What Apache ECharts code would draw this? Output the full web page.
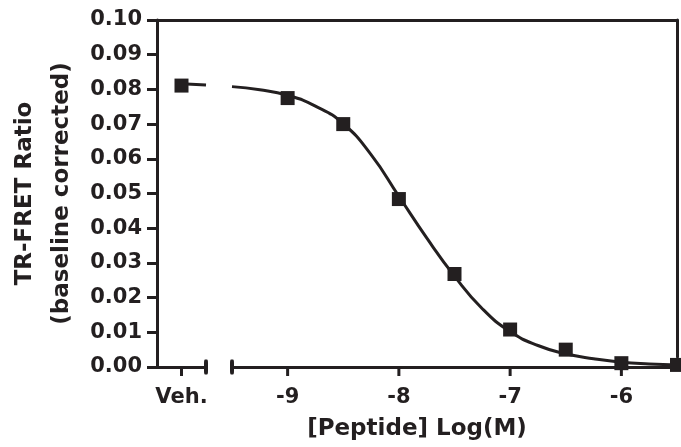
<!DOCTYPE html>
<html>
<head>
<meta charset="utf-8">
<script src="https://cdn.jsdelivr.net/npm/echarts@6/dist/echarts.min.js"></script>
<style>html,body{margin:0;padding:0;background:#fff;}#c{width:681px;height:447px;}</style>
</head>
<body>
<div id="c"></div>
<script>
// Data
const vehLabel = 'Veh.';
const vehValue = 0.0811;
const vehCurveX = [0, 1];
const vehCurveY = [0.0816, 0.0813];
const doseX = [-9, -8.5, -8, -7.5, -7, -6.5, -6, -5.5];
const doseY = [0.0775, 0.0700, 0.0484, 0.0268, 0.0108, 0.0050, 0.0011, 0.0006];
const curveX = [-9.5, -9.25, -9, -8.75, -8.5, -8.25, -8, -7.75, -7.5, -7.25, -7, -6.75, -6.5, -6.25, -6, -5.75, -5.5];
const curveY = [0.0808, 0.0799, 0.0783, 0.0752, 0.0701, 0.0612, 0.0492, 0.0372, 0.0262, 0.0168, 0.0102, 0.0062, 0.0038, 0.0024, 0.0014, 0.0009, 0.0006];
const xTicks = [-9, -8, -7, -6];
const vehTicks = [0];
const yTitle = 'TR-FRET Ratio\n(baseline corrected)';
const xTitle = '[Peptide] Log(M)';

const ink = '#231f20';
const font = 'DejaVu Sans';
const lineW = 3;
const G = {top: 20, bottom: 80};

const chart = echarts.init(document.getElementById('c'), null, {renderer: 'canvas'});
const tickSeries = (xi, yi, vals) => ({
  type: 'scatter', xAxisIndex: xi, yAxisIndex: yi, data: vals.map(v => [v, 0]),
  symbol: 'rect', symbolSize: [3, 9], symbolOffset: [0, 4.5],
  itemStyle: {color: ink, opacity: 1}, clip: false, z: 6, silent: true
});
chart.setOption({
  animation: false,
  backgroundColor: '#fff',
  grid: [
    {left: 157, right: 4, top: G.top, bottom: G.bottom},
    {left: 157, width: 49, top: G.top, bottom: G.bottom},
    {left: 232, right: 4, top: G.top, bottom: G.bottom}
  ],
  xAxis: [
    {gridIndex: 0, type: 'value', position: 'top', min: 0, max: 1,
     axisLine: {show: true, onZero: false, lineStyle: {color: ink, width: lineW}}, axisTick: {show: false},
     axisLabel: {show: false}, splitLine: {show: false}},
    {gridIndex: 0, type: 'value', position: 'bottom', min: 0, max: 1,
     axisLine: {show: false, onZero: false}, axisTick: {show: false}, axisLabel: {show: false}, splitLine: {show: false},
     name: xTitle, nameLocation: 'middle', nameGap: 59,
     nameTextStyle: {fontFamily: font, fontWeight: 'bold', fontSize: 23, color: ink, lineHeight: 26}},
    {gridIndex: 1, type: 'value', min: -1, max: 1,
     axisLine: {show: true, onZero: false, lineStyle: {color: ink, width: lineW}},
     axisTick: {show: false},
     axisLabel: {show: true, customValues: vehTicks, formatter: () => vehLabel, margin: 20,
       fontFamily: font, fontWeight: 'bold', fontSize: 21, color: ink},
     splitLine: {show: false}},
    {gridIndex: 2, type: 'value', min: -9.5, max: -5.5,
     axisLine: {show: true, onZero: false, lineStyle: {color: ink, width: lineW}},
     axisTick: {show: false},
     axisLabel: {show: true, customValues: xTicks, margin: 20,
       fontFamily: font, fontWeight: 'bold', fontSize: 21, color: ink},
     splitLine: {show: false}}
  ],
  yAxis: [
    {gridIndex: 0, type: 'value', position: 'right', min: 0, max: 1,
     axisLine: {show: true, onZero: false, lineStyle: {color: ink, width: lineW}}, axisTick: {show: false},
     axisLabel: {show: false}, splitLine: {show: false}},
    {gridIndex: 1, type: 'value', position: 'left', min: 0, max: 0.1, interval: 0.01,
     axisLine: {show: true, onZero: false, lineStyle: {color: ink, width: lineW}},
     axisTick: {show: true, length: 10, lineStyle: {color: ink, width: lineW}},
     axisLabel: {show: true, margin: 15, formatter: v => v.toFixed(2),
       fontFamily: font, fontWeight: 'bold', fontSize: 21, color: ink},
     splitLine: {show: false},
     name: yTitle, nameLocation: 'middle', nameGap: 76, nameRotate: 90,
     nameTextStyle: {fontFamily: font, fontWeight: 'bold', fontSize: 23, color: ink, lineHeight: 37, align: 'center'}},
    {gridIndex: 2, type: 'value', min: 0, max: 0.1, show: false}
  ],
  series: [
    {type: 'line', xAxisIndex: 2, yAxisIndex: 1, data: vehCurveX.map((x, i) => [x, vehCurveY[i]]),
     showSymbol: false, symbol: 'none', lineStyle: {color: ink, width: 3}, clip: false, z: 2},
    {type: 'line', xAxisIndex: 3, yAxisIndex: 2, data: curveX.map((x, i) => [x, curveY[i]]),
     smooth: true, showSymbol: false, symbol: 'none', lineStyle: {color: ink, width: 3}, clip: false, z: 2},
    {type: 'scatter', xAxisIndex: 2, yAxisIndex: 1, data: [[0, vehValue]],
     symbol: 'rect', symbolSize: 14, itemStyle: {color: ink, opacity: 1}, clip: false, z: 5},
    {type: 'scatter', xAxisIndex: 3, yAxisIndex: 2, data: doseX.map((x, i) => [x, doseY[i]]),
     symbol: 'rect', symbolSize: 14, itemStyle: {color: ink, opacity: 1}, clip: false, z: 5},
    tickSeries(2, 1, vehTicks),
    tickSeries(3, 2, xTicks),
    // axis break caps
    {type: 'scatter', xAxisIndex: 2, yAxisIndex: 1, data: [[1, 0]],
     symbol: 'roundRect', symbolSize: [4, 15], itemStyle: {color: ink, opacity: 1}, clip: false, z: 6, silent: true},
    {type: 'scatter', xAxisIndex: 3, yAxisIndex: 2, data: [[-9.5, 0]],
     symbol: 'roundRect', symbolSize: [4, 15], itemStyle: {color: ink, opacity: 1}, clip: false, z: 6, silent: true}
  ]
});
</script>
</body>
</html>
